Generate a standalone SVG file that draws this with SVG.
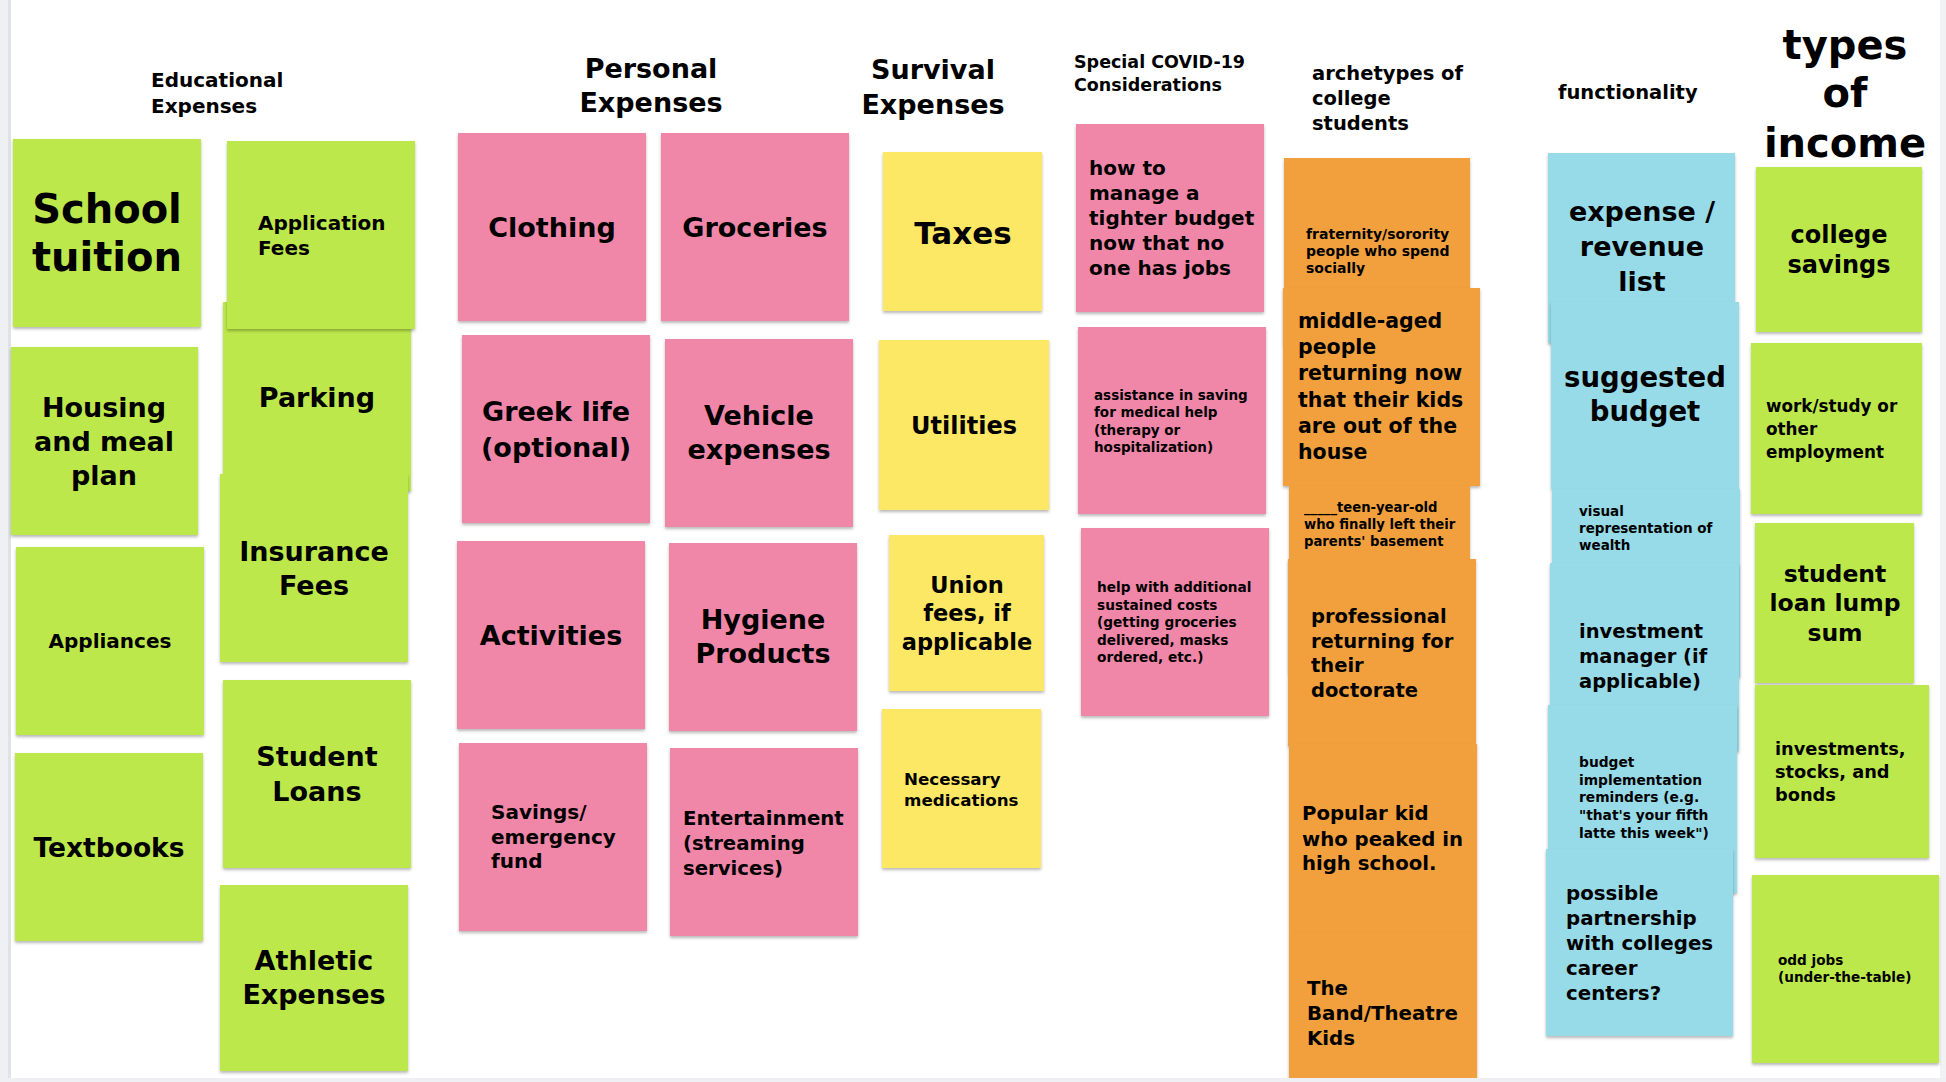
<svg xmlns="http://www.w3.org/2000/svg" width="1946" height="1082" viewBox="0 0 1946 1082">
<defs>
<filter id="sh" x="-5%" y="-5%" width="110%" height="115%">
<feDropShadow dx="0" dy="2" stdDeviation="1.5" flood-color="#000" flood-opacity="0.28"/>
</filter>
<style>
text{font-family:"DejaVu Sans","Liberation Sans",sans-serif;font-weight:bold;fill:#000}
.c{text-anchor:middle}
.g{fill:#bde84b}
.p{fill:#f087a9}
.y{fill:#fde865}
.o{fill:#f2a03c}
.b{fill:#97dbe8}
rect.n{filter:url(#sh)}
</style>
</defs>
<rect x="0" y="0" width="1946" height="1082" fill="#ffffff"/>
<rect x="0" y="0" width="8" height="1082" fill="#eef0f3"/>
<rect x="8" y="0" width="3" height="1082" fill="#dfe2e6"/>
<rect x="1940" y="0" width="6" height="1082" fill="#f1f2f4"/>

<g id="headers">
<text x="151" y="87" font-size="20">Educational</text>
<text x="151" y="113" font-size="20">Expenses</text>
<text class="c" x="651" y="78" font-size="27">Personal</text>
<text class="c" x="651" y="112" font-size="27">Expenses</text>
<text class="c" x="933" y="79" font-size="27">Survival</text>
<text class="c" x="933" y="114" font-size="27">Expenses</text>
<text x="1074" y="68" font-size="17.5">Special COVID-19</text>
<text x="1074" y="91" font-size="17.5">Considerations</text>
<text x="1312" y="80" font-size="19.5">archetypes of</text>
<text x="1312" y="105" font-size="19.5">college</text>
<text x="1312" y="130" font-size="19.5">students</text>
<text x="1558" y="99" font-size="19.5">functionality</text>
<text class="c" x="1845" y="59" font-size="40">types</text>
<text class="c" x="1845" y="107" font-size="40">of</text>
<text class="c" x="1845" y="157" font-size="40">income</text>
</g>

<g id="connectors"/>

<!-- Educational Expenses -->
<g id="school-tuition"><rect class="n g" x="13" y="139" width="188" height="188"/>
<text class="c" x="107" y="223" font-size="40">School</text><text class="c" x="107" y="271" font-size="40">tuition</text></g>
<g id="parking"><rect class="n g" x="223" y="302" width="188" height="189"/>
<text class="c" x="317" y="407" font-size="27">Parking</text></g>
<g id="application-fees"><rect class="n g" x="227" y="141" width="188" height="188"/>
<text x="258" y="230" font-size="20">Application</text><text x="258" y="255" font-size="20">Fees</text></g>
<g id="insurance-fees"><rect class="n g" x="220" y="474" width="188" height="188"/>
<text class="c" x="314" y="561" font-size="27">Insurance</text><text class="c" x="314" y="595" font-size="27">Fees</text></g>
<g id="housing"><rect class="n g" x="11" y="347" width="187" height="188"/>
<text class="c" x="104" y="417" font-size="27">Housing</text><text class="c" x="104" y="451" font-size="27">and meal</text><text class="c" x="104" y="485" font-size="27">plan</text></g>
<g id="appliances"><rect class="n g" x="16" y="547" width="188" height="188"/>
<text class="c" x="110" y="648" font-size="20">Appliances</text></g>
<g id="textbooks"><rect class="n g" x="15" y="753" width="188" height="188"/>
<text class="c" x="109" y="857" font-size="26.5">Textbooks</text></g>
<g id="student-loans"><rect class="n g" x="223" y="680" width="188" height="188"/>
<text class="c" x="317" y="766" font-size="27">Student</text><text class="c" x="317" y="801" font-size="27">Loans</text></g>
<g id="athletic-expenses"><rect class="n g" x="220" y="885" width="188" height="186"/>
<text class="c" x="314" y="970" font-size="27">Athletic</text><text class="c" x="314" y="1004" font-size="27">Expenses</text></g>

<!-- Personal Expenses -->
<g id="clothing"><rect class="n p" x="458" y="133" width="188" height="188"/>
<text class="c" x="552" y="237" font-size="27">Clothing</text></g>
<g id="groceries"><rect class="n p" x="661" y="133" width="188" height="188"/>
<text class="c" x="755" y="237" font-size="27">Groceries</text></g>
<g id="greek-life"><rect class="n p" x="462" y="335" width="188" height="188"/>
<text class="c" x="556" y="421" font-size="27">Greek life</text><text class="c" x="556" y="457" font-size="27">(optional)</text></g>
<g id="vehicle-expenses"><rect class="n p" x="665" y="339" width="188" height="188"/>
<text class="c" x="759" y="425" font-size="27">Vehicle</text><text class="c" x="759" y="459" font-size="27">expenses</text></g>
<g id="activities"><rect class="n p" x="457" y="541" width="188" height="188"/>
<text class="c" x="551" y="645" font-size="27">Activities</text></g>
<g id="hygiene-products"><rect class="n p" x="669" y="543" width="188" height="188"/>
<text class="c" x="763" y="629" font-size="27">Hygiene</text><text class="c" x="763" y="663" font-size="27">Products</text></g>
<g id="savings"><rect class="n p" x="459" y="743" width="188" height="188"/>
<text x="491" y="819" font-size="20">Savings/</text><text x="491" y="844" font-size="20">emergency</text><text x="491" y="868" font-size="20">fund</text></g>
<g id="entertainment"><rect class="n p" x="670" y="748" width="188" height="188"/>
<text x="683" y="825" font-size="19.7">Entertainment</text><text x="683" y="850" font-size="19.7">(streaming</text><text x="683" y="875" font-size="19.7">services)</text></g>

<!-- Survival Expenses -->
<g id="taxes"><rect class="n y" x="883" y="152" width="159" height="159"/>
<text class="c" x="963" y="244" font-size="31">Taxes</text></g>
<g id="utilities"><rect class="n y" x="879" y="340" width="170" height="170"/>
<text class="c" x="964" y="434" font-size="24">Utilities</text></g>
<g id="union-fees"><rect class="n y" x="889" y="535" width="155" height="156"/>
<text class="c" x="967" y="593" font-size="22.5">Union</text><text class="c" x="967" y="621" font-size="22.5">fees, if</text><text class="c" x="967" y="650" font-size="22.5">applicable</text></g>
<g id="necessary-medications"><rect class="n y" x="882" y="709" width="159" height="159"/>
<text x="904" y="785" font-size="16.7">Necessary</text><text x="904" y="806" font-size="16.7">medications</text></g>

<!-- Special COVID-19 Considerations -->
<g id="tighter-budget"><rect class="n p" x="1076" y="124" width="188" height="188"/>
<text x="1089" y="175" font-size="20">how to</text><text x="1089" y="200" font-size="20">manage a</text><text x="1089" y="225" font-size="20">tighter budget</text><text x="1089" y="250" font-size="20">now that no</text><text x="1089" y="275" font-size="20">one has jobs</text></g>
<g id="medical-help"><rect class="n p" x="1078" y="327" width="188" height="187"/>
<text x="1094" y="400" font-size="13.5">assistance in saving</text><text x="1094" y="417" font-size="13.5">for medical help</text><text x="1094" y="435" font-size="13.5">(therapy or</text><text x="1094" y="452" font-size="13.5">hospitalization)</text></g>
<g id="sustained-costs"><rect class="n p" x="1081" y="528" width="188" height="188"/>
<text x="1097" y="592" font-size="13.7">help with additional</text><text x="1097" y="610" font-size="13.7">sustained costs</text><text x="1097" y="627" font-size="13.7">(getting groceries</text><text x="1097" y="645" font-size="13.7">delivered, masks</text><text x="1097" y="662" font-size="13.7">ordered, etc.)</text></g>

<!-- archetypes -->
<g id="fraternity"><rect class="n o" x="1284" y="158" width="186" height="188"/>
<text x="1306" y="239" font-size="14">fraternity/sorority</text><text x="1306" y="256" font-size="14">people who spend</text><text x="1306" y="273" font-size="14">socially</text></g>
<g id="middle-aged"><rect class="n o" x="1283" y="288" width="197" height="198"/>
<text x="1298" y="328" font-size="20.5">middle-aged</text><text x="1298" y="354" font-size="20.5">people</text><text x="1298" y="380" font-size="20.5">returning now</text><text x="1298" y="407" font-size="20.5">that their kids</text><text x="1298" y="433" font-size="20.5">are out of the</text><text x="1298" y="459" font-size="20.5">house</text></g>
<g id="teen-year-old"><rect class="n o" x="1289" y="486" width="181" height="188"/>
<text x="1304" y="512" font-size="13.2">_____teen-year-old</text><text x="1304" y="529" font-size="13.2">who finally left their</text><text x="1304" y="546" font-size="13.2">parents' basement</text></g>
<g id="professional"><rect class="n o" x="1288" y="559" width="188" height="187"/>
<text x="1311" y="623" font-size="19.5">professional</text><text x="1311" y="648" font-size="19.5">returning for</text><text x="1311" y="672" font-size="19.5">their</text><text x="1311" y="697" font-size="19.5">doctorate</text></g>
<g id="popular-kid"><rect class="n o" x="1289" y="744" width="188" height="188"/>
<text x="1302" y="820" font-size="19.7">Popular kid</text><text x="1302" y="846" font-size="19.7">who peaked in</text><text x="1302" y="870" font-size="19.7">high school.</text></g>
<g id="band-theatre"><rect class="n o" x="1289" y="932" width="188" height="170"/>
<text x="1307" y="995" font-size="19.8">The</text><text x="1307" y="1020" font-size="19.8">Band/Theatre</text><text x="1307" y="1045" font-size="19.8">Kids</text></g>

<!-- functionality -->
<g id="expense-list"><rect class="n b" x="1548" y="153" width="187" height="190"/>
<text class="c" x="1642" y="221" font-size="27">expense /</text><text class="c" x="1642" y="256" font-size="27">revenue</text><text class="c" x="1642" y="291" font-size="27">list</text></g>
<g id="suggested-budget"><rect class="n b" x="1551" y="302" width="188" height="187"/>
<text class="c" x="1645" y="387" font-size="27.5">suggested</text><text class="c" x="1645" y="421" font-size="27.5">budget</text></g>
<g id="visual-wealth"><rect class="n b" x="1552" y="489" width="188" height="188"/>
<text x="1579" y="516" font-size="13.5">visual</text><text x="1579" y="533" font-size="13.5">representation of</text><text x="1579" y="550" font-size="13.5">wealth</text></g>
<g id="investment-manager"><rect class="n b" x="1550" y="563" width="189" height="188"/>
<text x="1579" y="638" font-size="19.5">investment</text><text x="1579" y="663" font-size="19.5">manager (if</text><text x="1579" y="688" font-size="19.5">applicable)</text></g>
<g id="budget-reminders"><rect class="n b" x="1548" y="705" width="189" height="188"/>
<text x="1579" y="767" font-size="13.8">budget</text><text x="1579" y="785" font-size="13.8">implementation</text><text x="1579" y="802" font-size="13.8">reminders (e.g.</text><text x="1579" y="820" font-size="13.8">"that's your fifth</text><text x="1579" y="838" font-size="13.8">latte this week")</text></g>
<g id="career-centers"><rect class="n b" x="1546" y="849" width="187" height="187"/>
<text x="1566" y="900" font-size="19.8">possible</text><text x="1566" y="925" font-size="19.8">partnership</text><text x="1566" y="950" font-size="19.8">with colleges</text><text x="1566" y="975" font-size="19.8">career</text><text x="1566" y="1000" font-size="19.8">centers?</text></g>

<!-- types of income -->
<g id="college-savings"><rect class="n g" x="1756" y="167" width="166" height="165"/>
<text class="c" x="1839" y="243" font-size="24">college</text><text class="c" x="1839" y="273" font-size="24">savings</text></g>
<g id="work-study"><rect class="n g" x="1751" y="343" width="171" height="171"/>
<text x="1766" y="412" font-size="16.8">work/study or</text><text x="1766" y="435" font-size="16.8">other</text><text x="1766" y="458" font-size="16.8">employment</text></g>
<g id="student-loan-lump-sum"><rect class="n g" x="1755" y="523" width="159" height="160"/>
<text class="c" x="1835" y="582" font-size="23.5">student</text><text class="c" x="1835" y="611" font-size="23.5">loan lump</text><text class="c" x="1835" y="641" font-size="23.5">sum</text></g>
<g id="investments"><rect class="n g" x="1755" y="685" width="174" height="173"/>
<text x="1775" y="755" font-size="17.8">investments,</text><text x="1775" y="778" font-size="17.8">stocks, and</text><text x="1775" y="801" font-size="17.8">bonds</text></g>
<g id="odd-jobs"><rect class="n g" x="1752" y="875" width="187" height="188"/>
<text x="1778" y="965" font-size="13.6">odd jobs</text><text x="1778" y="982" font-size="13.6">(under-the-table)</text></g>

<rect x="0" y="1078" width="1946" height="4" fill="#eef0f3"/>
</svg>
